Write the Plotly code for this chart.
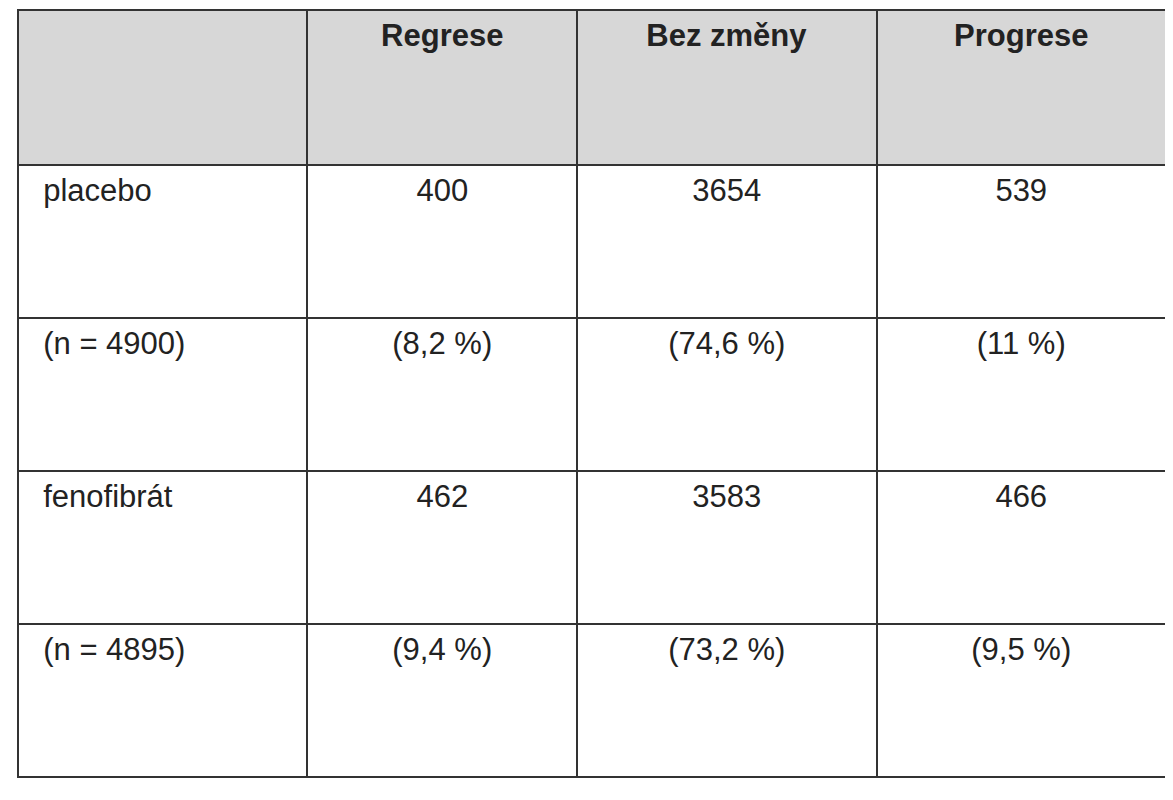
import plotly.graph_objects as go

header = ["", "Regrese", "Bez změny", "Progrese"]
row_labels = ["placebo", "(n = 4900)", "fenofibrát", "(n = 4895)"]
regrese = ["400", "(8,2 %)", "462", "(9,4 %)"]
bez_zmeny = ["3654", "(74,6 %)", "3583", "(73,2 %)"]
progrese = ["539", "(11 %)", "466", "(9,5 %)"]

# plotly tables align text to the top of a cell, so push it down one line
def mid(vals, bold=False, indent=False):
    out = []
    for v in vals:
        t = f"<b>{v}</b>" if (bold and v) else v
        if indent:
            t = "&nbsp;&nbsp;" + t
        out.append("<br>" + t)
    return out

fig = go.Figure(go.Table(
    columnwidth=[290, 270, 300, 290],
    header=dict(
        values=mid(header, bold=True),
        fill_color="#d7d7d7",
        line=dict(color="#333333", width=2),
        align="center",
        height=155,
        font=dict(family="Liberation Sans", size=31, color="#222222"),
    ),
    cells=dict(
        values=[mid(row_labels, indent=True), mid(regrese), mid(bez_zmeny), mid(progrese)],
        fill_color="white",
        line=dict(color="#333333", width=2),
        align=["left", "center", "center", "center"],
        height=153,
        font=dict(family="Liberation Sans", size=31, color="#222222"),
    ),
))

fig.update_layout(
    width=1173, height=800,
    margin=dict(l=10, r=15, t=2, b=0),
    paper_bgcolor="white",
)

fig.write_html("out.html")
